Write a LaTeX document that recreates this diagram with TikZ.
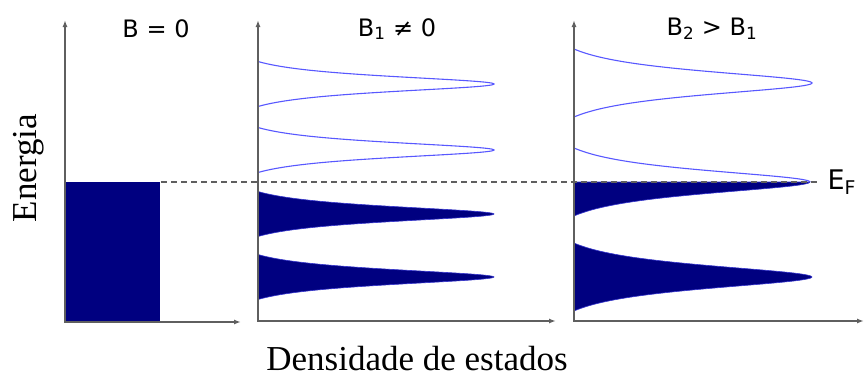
\documentclass[tikz,border=0pt]{standalone}
\usepackage{fontspec}
\setmainfont{Liberation Serif}
\newfontfamily\headfont{DejaVu Sans}
\usepackage{tikz}
\usetikzlibrary{arrows.meta}
\definecolor{dnavy}{RGB}{0,0,128}
\definecolor{dblue}{RGB}{88,88,255}
\definecolor{dgray}{RGB}{95,95,95}

\begin{document}
\begin{tikzpicture}[
x=1pt,
y=-1pt,
declare function={lor(\u)=(1/(1+4.938*\u*\u)-0.1684)/0.8316;},
daxis/.style={draw=dgray,line width=1.4pt,{Latex[length=7pt,width=5pt]}-{Latex[length=7pt,width=5pt]}},
dline/.style={draw=dblue,line width=1.1pt},
dfill/.style={fill=dnavy,draw=dblue!60!dnavy,line width=0.6pt},
dfermi/.style={draw=dgray,line width=1.2pt,dash pattern=on 6pt off 4pt},
dhead/.style={font=\headfont\fontsize{24}{28}\selectfont},
dlabel/.style={font=\fontsize{35}{40}\selectfont}
]
\useasboundingbox (0,0) rectangle (864,378);

% B = 0
\fill[dnavy] (65,182) rectangle (160,322);

% B1 /= 0
\draw[dline] plot[variable=\t,domain=-1:1,samples=101] ({258+236*lor(\t)},{84+22.5*\t});
\draw[dline] plot[variable=\t,domain=-1:1,samples=101] ({258+236*lor(\t)},{150+22.5*\t});
\filldraw[dfill] plot[variable=\t,domain=-1:1,samples=101] ({258+236*lor(\t)},{214+22.5*\t}) -- cycle;
\filldraw[dfill] plot[variable=\t,domain=-1:1,samples=101] ({258+236*lor(\t)},{277+22.5*\t}) -- cycle;

% B2 > B1
\draw[dline] plot[variable=\t,domain=-1:1,samples=101] ({574+238*lor(\t)},{83+34*\t});
\draw[dline] plot[variable=\t,domain=-1:0,samples=51] ({574+236*lor(\t)},{182+34*\t});
\filldraw[dfill] plot[variable=\t,domain=0:1,samples=51] ({574+236*lor(\t)},{182+34*\t}) -- (574,182) -- cycle;
\filldraw[dfill] plot[variable=\t,domain=-1:1,samples=101] ({574+238*lor(\t)},{277+34*\t}) -- cycle;

% axes
\draw[daxis] (65,20) -- (65,322) -- (241,322);
\draw[daxis] (258,20) -- (258,321) -- (556,321);
\draw[daxis] (574,20) -- (574,321) -- (864,321);

% Fermi level
\draw[dfermi] (161,182) -- (820,182);

\node[dhead] (head0) at (156,29) {B = 0};
\node[dhead] (head1) at (397,29) {B\textsubscript{1} ≠ 0};
\node[dhead] (head2) at (712,29) {B\textsubscript{2} > B\textsubscript{1}};
\node[dhead,anchor=west,font=\headfont\fontsize{27}{30}\selectfont] (fermi) at (824,182) {E\textsubscript{F}};
\node[dlabel,rotate=90,anchor=base] (energy) at (36,168) {Energia};
\node[dlabel,anchor=base] (dos) at (417,370) {Densidade de estados};
\end{tikzpicture}
\end{document}
